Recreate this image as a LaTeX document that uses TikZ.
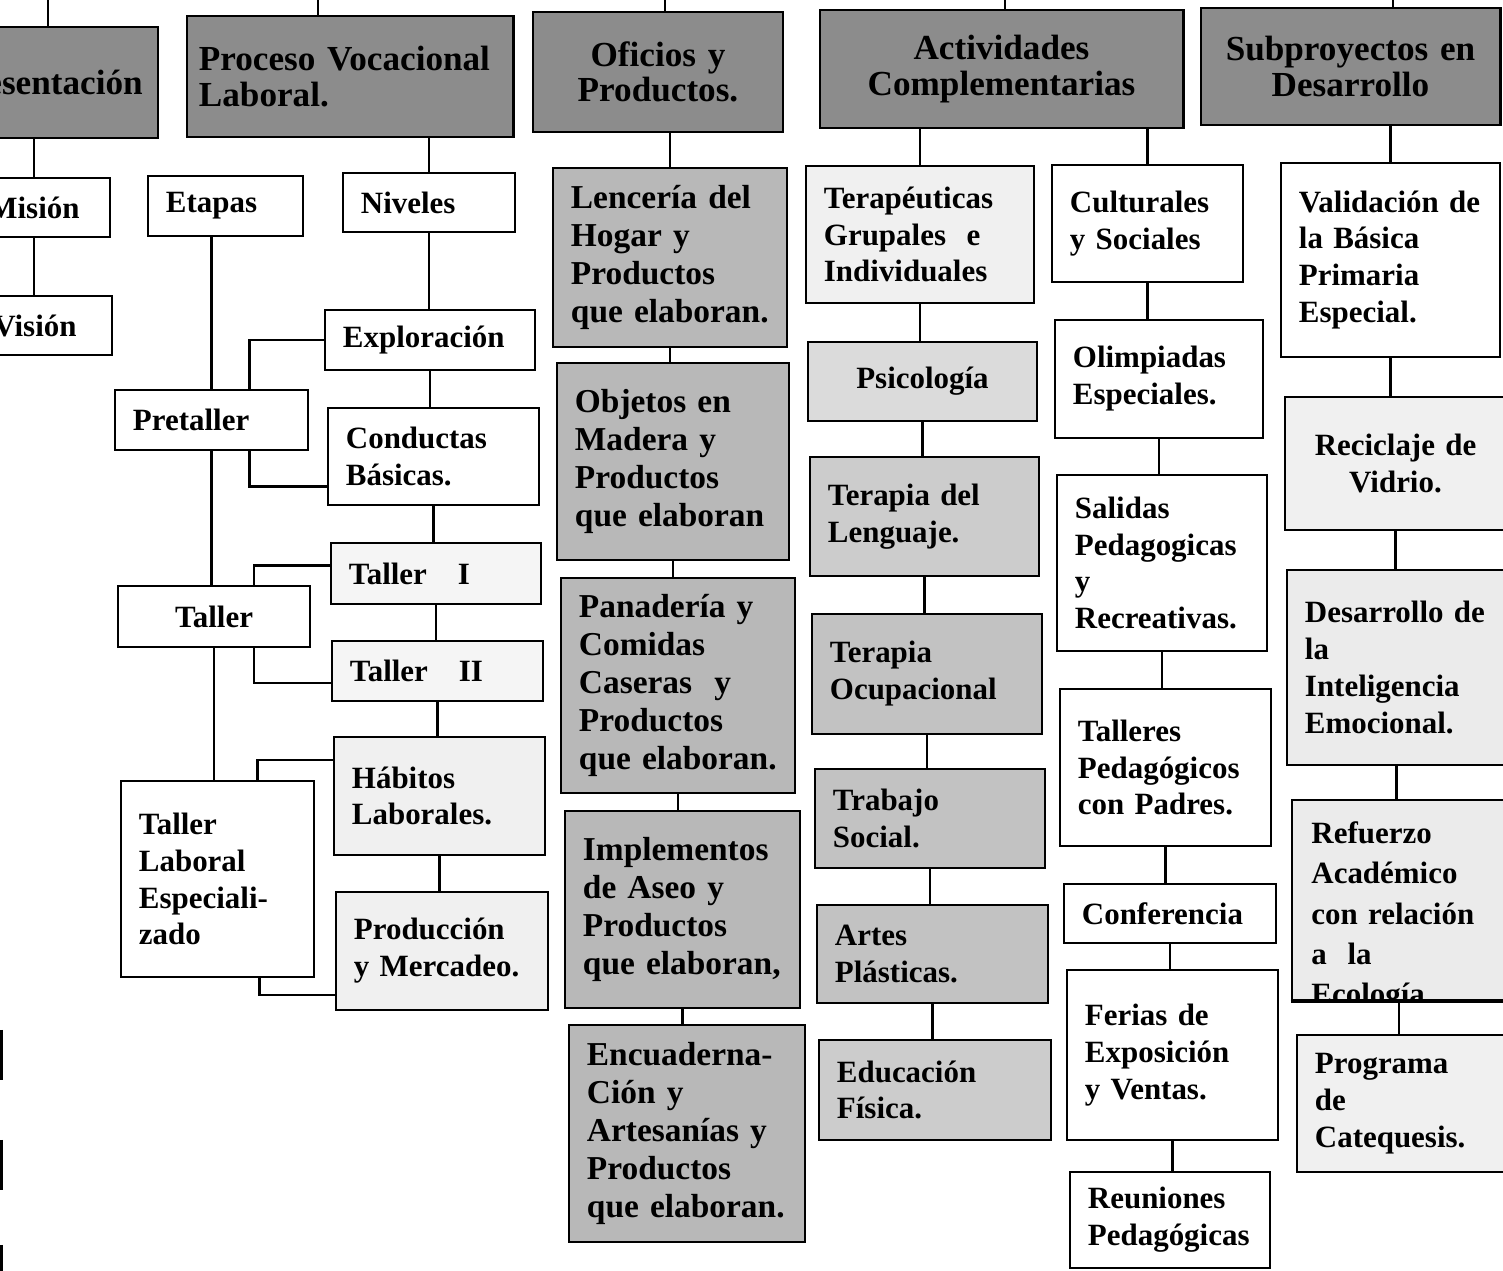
\documentclass[tikz,border=0pt]{standalone}
\usepackage{fontspec}
\setmainfont{Liberation Serif}
\usetikzlibrary{calc}

\tikzset{
  box/.style={draw, line width=0.8pt, rectangle, inner xsep=0.18cm, inner ysep=0pt, align=left,
    font=\bfseries\fontsize{8.8}{10.5}\selectfont},
  hdr/.style={box, fill=black!45, align=center, font=\bfseries\fontsize{10}{10}\selectfont},
  ofc/.style={box, fill=black!28, font=\bfseries\fontsize{9.5}{10.8}\selectfont},
  link/.style={line width=0.6pt},
}

\begin{document}
\begin{tikzpicture}[x=0.01cm, y=-0.01cm]
\useasboundingbox (0,0) rectangle (1503,1271);

% encabezados
\node[hdr, text width=1.9cm, minimum height=1.11cm] (pres) at (45,82.5) {Presentación};
\node[hdr, align=left, inner xsep=0.12cm, text width=3.02cm, minimum height=1.21cm] (proc) at (350,76.5) {Proceso~Vocacional\\Laboral.};
\node[hdr, text width=2.14cm, minimum height=1.2cm] (ofi) at (658,72) {Oficios y\\Productos.};
\node[hdr, text width=3.27cm, minimum height=1.18cm] (act) at (1001.5,69) {Actividades\\Complementarias};
\node[hdr, text width=2.63cm, minimum height=1.17cm] (sub) at (1350.5,66.5) {Subproyectos~en\\Desarrollo};

\coordinate (tpres) at (48,-5);
\coordinate (tproc) at (318,-5);
\coordinate (tofi) at (665,-5);
\coordinate (tact) at (1005,-5);
\coordinate (tsub) at (1393,-5);

% presentacion
\node[box, align=center, text width=1.16cm, minimum height=0.59cm] (mision) at (34,207.5) {Misión};
\node[box, align=center, text width=1.18cm, minimum height=0.59cm] (vision) at (35,325.5) {Visión};

% proceso vocacional
\node[box, text width=1.19cm, minimum height=0.6cm] (etapas) at (225.5,206) {Etapas};
\node[box, text width=1.36cm, minimum height=0.59cm] (niveles) at (429,202.5) {Niveles};
\node[box, text width=1.74cm, minimum height=0.6cm] (exploracion) at (430,340) {Exploración};
\node[box, text width=1.57cm, minimum height=0.6cm] (pretaller) at (211.5,420) {Pretaller};
\node[box, text width=1.75cm, minimum height=0.97cm] (conductas) at (433.5,456.5) {Conductas\\Básicas.};
\node[box, fill=black!4, text width=1.74cm, minimum height=0.61cm] (tallerI) at (436,573.5) {Taller\quad I};
\node[box, align=center, text width=1.56cm, minimum height=0.61cm] (taller) at (214,616.5) {Taller};
\node[box, fill=black!4, text width=1.75cm, minimum height=0.6cm] (tallerII) at (437.5,671) {Taller\quad II};
\node[box, fill=black!6, text width=1.75cm, minimum height=1.18cm] (habitos) at (439.5,796) {Hábitos\\Laborales.};
\node[box, text width=1.57cm, minimum height=1.96cm] (tlaboral) at (217.5,879) {Taller\\Laboral\\Especiali-\\zado};
\node[box, fill=black!6, text width=1.76cm, minimum height=1.18cm] (produccion) at (442,951) {Producción\\y Mercadeo.};

% oficios
\node[ofc, text width=1.98cm, minimum height=1.79cm] (lenceria) at (670,257.5) {Lencería del\\Hogar y\\Productos\\que~elaboran.};
\node[ofc, text width=1.96cm, minimum height=1.97cm] (objetos) at (673,461.5) {Objetos en\\Madera y\\Productos\\que~elaboran};
\node[ofc, text width=1.98cm, minimum height=2.15cm] (panaderia) at (678,685.5) {Panadería y\\Comidas\\Caseras\ \ y\\Productos\\que~elaboran.};
\node[ofc, text width=1.99cm, minimum height=1.97cm] (implementos) at (682.5,909.5) {Implementos\\de Aseo y\\Productos\\que~elaboran,};
\node[ofc, text width=2cm, minimum height=2.17cm] (encuadernacion) at (687,1133.5) {Encuaderna-\\Ción y\\Artesanías y\\Productos\\que~elaboran.};

% actividades complementarias
\node[box, fill=black!6, text width=1.92cm, minimum height=1.37cm] (terapeuticas) at (920,234.5) {Terapéuticas\\Grupales\ \ e\\Individuales};
\node[box, fill=black!14, align=center, text width=1.93cm, minimum height=0.79cm] (psicologia) at (922.5,381.5) {Psicología};
\node[box, fill=black!20, text width=1.93cm, minimum height=1.19cm] (lenguaje) at (924.5,516.5) {Terapia del\\Lenguaje.};
\node[box, fill=black!24, text width=1.94cm, minimum height=1.2cm] (ocupacional) at (927,674) {Terapia\\Ocupacional};
\node[box, fill=black!24, text width=1.94cm, minimum height=0.99cm] (trabajo) at (930,818.5) {Trabajo\\Social.};
\node[box, fill=black!24, text width=1.95cm, minimum height=0.98cm] (artes) at (932.5,954) {Artes\\Plásticas.};
\node[box, fill=black!20, text width=1.96cm, minimum height=1cm] (educacion) at (935,1090) {Educación\\Física.};

\node[box, text width=1.55cm, minimum height=1.17cm] (culturales) at (1147.5,223.5) {Culturales\\y Sociales};
\node[box, text width=1.72cm, minimum height=1.18cm] (olimpiadas) at (1159,379) {Olimpiadas\\Especiales.};
\node[box, text width=1.74cm, minimum height=1.76cm] (salidas) at (1162,563) {Salidas\\Pedagogicas\\y\\Recreativas.};
\node[box, text width=1.75cm, minimum height=1.57cm] (talleres) at (1165.5,767.5) {Talleres\\Pedagógicos\\con Padres.};
\node[box, text width=1.76cm, minimum height=0.59cm] (conferencia) at (1170,913.5) {Conferencia};
\node[box, text width=1.75cm, minimum height=1.7cm] (ferias) at (1172.5,1055) {Ferias de\\Exposición\\y Ventas.};
\node[box, text width=1.64cm, minimum height=0.96cm] (reuniones) at (1170,1220) {Reuniones\\Pedagógicas};

% subproyectos
\node[box, text width=1.83cm, minimum height=1.94cm] (validacion) at (1390.5,260) {Validación~de\\la Básica\\Primaria\\Especial.};
\node[box, fill=black!6, align=center, text width=1.85cm, minimum height=1.33cm] (reciclaje) at (1395.5,463.5) {Reciclaje de\\Vidrio.};
\node[box, fill=black!8, text width=1.83cm, minimum height=1.95cm] (desarrollo) at (1396.5,667.5) {Desarrollo~de\\la\\Inteligencia\\Emocional.};
\node[box, fill=black!8, minimum width=2.14cm, minimum height=2cm] (refuerzo) at (1399,900) {};
\begin{scope}
  \clip (refuerzo.south west) rectangle (refuerzo.north east);
  \node[box, draw=none, anchor=north west, text width=1.8cm, font=\bfseries\fontsize{8.8}{11.5}\selectfont] (refuerzotxt) at (1292,820) {Refuerzo\\Académico\\con relación\\a~~la\\Ecología};
\end{scope}
\draw[line width=0.8pt] (refuerzo.south west) -- (refuerzo.south east);
\node[box, fill=black!6, text width=1.73cm, minimum height=1.37cm] (programa) at (1401.5,1103.5) {Programa\\de\\Catequesis.};

% conectores
\draw[link] (tpres) -- (tpres |- pres.north);
\draw[link] (tproc) -- (tproc |- proc.north);
\draw[link] (tofi) -- (tofi |- ofi.north);
\draw[link] (tact) -- (tact |- act.north);
\draw[link] (tsub) -- (tsub |- sub.north);

\draw[link] (mision.north) -- (mision.north |- pres.south);
\draw[link] (mision.south) -- (mision.south |- vision.north);

\draw[link] (niveles.north) -- (niveles.north |- proc.south);
\draw[link] (niveles.south) -- (niveles.south |- exploracion.north);
\draw[link] (exploracion.south) -- (exploracion.south |- conductas.north);
\draw[link] (conductas.south) -- (conductas.south |- tallerI.north);
\draw[link] (tallerI.south) -- (tallerI.south |- tallerII.north);
\draw[link] (tallerII.south) -- (tallerII.south |- habitos.north);
\draw[link] (habitos.south) -- (habitos.south |- produccion.north);

\draw[link] (pretaller.north) -- (pretaller.north |- etapas.south);
\draw[link] (pretaller.south) -- (pretaller.south |- taller.north);
\draw[link] (taller.south) -- (taller.south |- tlaboral.north);
\draw[link] ($(pretaller.north)+(38,0)$) |- (exploracion.west);
\draw[link] ($(pretaller.south)+(38,0)$) |- ($(conductas.west)+(0,30)$);
\draw[link] ($(taller.north)+(40,0)$) |- ($(tallerI.west)+(0,-8)$);
\draw[link] ($(taller.south)+(40,0)$) |- ($(tallerII.west)+(0,12)$);
\draw[link] ($(tlaboral.north)+(40,0)$) |- ($(habitos.west)+(0,-36)$);
\draw[link] ($(tlaboral.south)+(42,0)$) |- ($(produccion.west)+(0,44)$);

\draw[link] (lenceria.north) -- (lenceria.north |- ofi.south);
\draw[link] (lenceria.south) -- (lenceria.south |- objetos.north);
\draw[link] (objetos.south) -- (objetos.south |- panaderia.north);
\draw[link] (panaderia.south) -- (panaderia.south |- implementos.north);
\draw[link] (implementos.south) -- (implementos.south |- encuadernacion.north);

\draw[link] (terapeuticas.north) -- (terapeuticas.north |- act.south);
\draw[link] (terapeuticas.south) -- (terapeuticas.south |- psicologia.north);
\draw[link] (psicologia.south) -- (psicologia.south |- lenguaje.north);
\draw[link] (lenguaje.south) -- (lenguaje.south |- ocupacional.north);
\draw[link] (ocupacional.south) -- (ocupacional.south |- trabajo.north);
\draw[link] (trabajo.south) -- (trabajo.south |- artes.north);
\draw[link] (artes.south) -- (artes.south |- educacion.north);

\draw[link] (culturales.north) -- (culturales.north |- act.south);
\draw[link] (culturales.south) -- (culturales.south |- olimpiadas.north);
\draw[link] (olimpiadas.south) -- (olimpiadas.south |- salidas.north);
\draw[link] (salidas.south) -- (salidas.south |- talleres.north);
\draw[link] (talleres.south) -- (talleres.south |- conferencia.north);
\draw[link] (conferencia.south) -- (conferencia.south |- ferias.north);
\draw[link] (ferias.south) -- (ferias.south |- reuniones.north);

\draw[link] (validacion.north) -- (validacion.north |- sub.south);
\draw[link] (validacion.south) -- (validacion.south |- reciclaje.north);
\draw[link] (reciclaje.south) -- (reciclaje.south |- desarrollo.north);
\draw[link] (desarrollo.south) -- (desarrollo.south |- refuerzo.north);
\draw[link] (refuerzo.south) -- (refuerzo.south |- programa.north);

% bordes cortados a la izquierda
\draw[line width=1.3pt] (1,1030) -- (1,1080);
\draw[line width=1.3pt] (1,1140) -- (1,1190);
\draw[line width=1.3pt] (1,1245) -- (1,1271);
\end{tikzpicture}
\end{document}
